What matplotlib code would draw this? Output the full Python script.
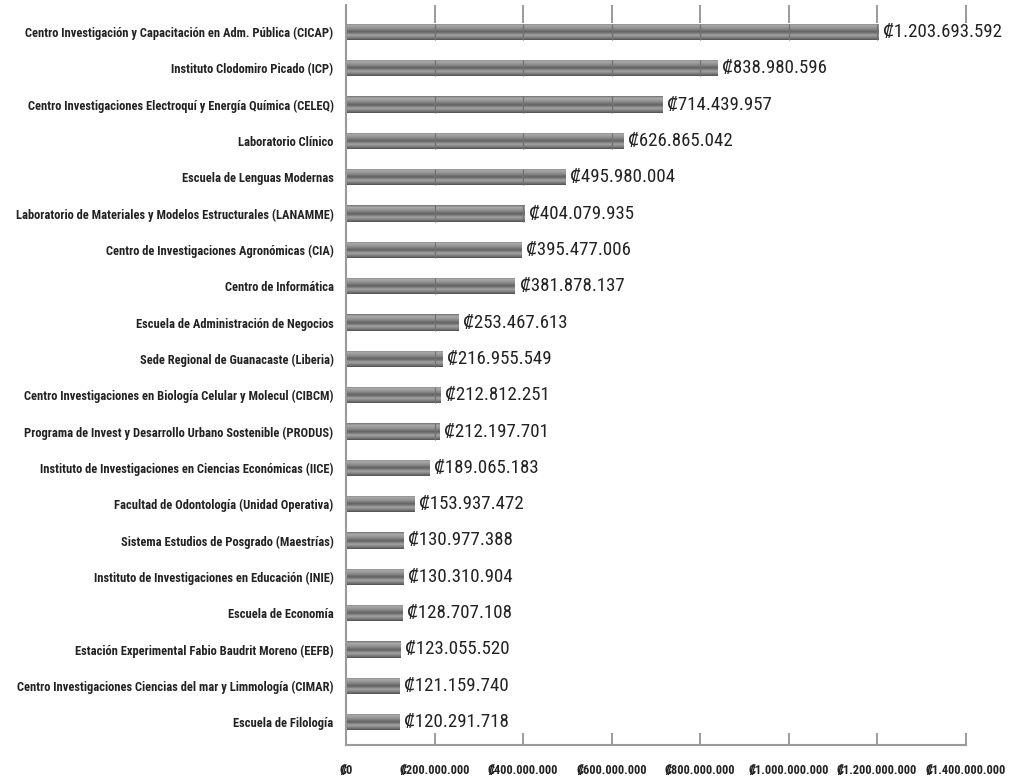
import numpy as np
import matplotlib
matplotlib.use("Agg")
import matplotlib.pyplot as plt
from matplotlib import font_manager as fm
from matplotlib.colors import LinearSegmentedColormap

categories = [
    "Centro Investigación y Capacitación en Adm. Pública (CICAP)",
    "Instituto Clodomiro Picado (ICP)",
    "Centro Investigaciones Electroquí y Energía Química (CELEQ)",
    "Laboratorio Clínico",
    "Escuela de Lenguas Modernas",
    "Laboratorio de Materiales y Modelos Estructurales (LANAMME)",
    "Centro de Investigaciones Agronómicas (CIA)",
    "Centro de Informática",
    "Escuela de Administración de Negocios",
    "Sede Regional de Guanacaste (Liberia)",
    "Centro Investigaciones en Biología Celular y Molecul (CIBCM)",
    "Programa de Invest y Desarrollo Urbano Sostenible (PRODUS)",
    "Instituto de Investigaciones en Ciencias Económicas (IICE)",
    "Facultad de Odontología (Unidad Operativa)",
    "Sistema Estudios de Posgrado (Maestrías)",
    "Instituto de Investigaciones en Educación (INIE)",
    "Escuela de Economía",
    "Estación Experimental Fabio Baudrit Moreno (EEFB)",
    "Centro Investigaciones Ciencias del mar y Limmología (CIMAR)",
    "Escuela de Filología",
]
values = [
    1203693592, 838980596, 714439957, 626865042, 495980004,
    404079935, 395477006, 381878137, 253467613, 216955549,
    212812251, 212197701, 189065183, 153937472, 130977388,
    130310904, 128707108, 123055520, 121159740, 120291718,
]
x_ticks = [0, 200000000, 400000000, 600000000, 800000000,
           1000000000, 1200000000, 1400000000]


def fmt(v):
    return "₡" + f"{v:,}".replace(",", ".")


# ---- choose a narrow font if one is installed ----
def pick_font():
    prefs = ["liberationsansnarrow", "robotocondensed", "opensanscondensed",
             "opensans_condensed", "notosanscondensed", "notosans-condensed",
             "dejavusanscondensed", "latocondensed"]
    entries = fm.fontManager.ttflist
    for p in prefs:
        for e in entries:
            key = e.fname.lower().replace(" ", "").split("/")[-1]
            if key.startswith(p) or p in key:
                return e.name, e.stretch
    for e in entries:
        k = e.fname.lower()
        if "narrow" in k or "condensed" in k:
            return e.name, e.stretch
    return "DejaVu Sans", "normal"


fam_name, fam_stretch = pick_font()
FONT = [fam_name, "Noto Sans", "DejaVu Sans"]
plt.rcParams["font.family"] = FONT

fig = plt.figure(figsize=(10.09, 7.79), dpi=100)
ax = fig.add_axes([0.343, 0.0436, 0.614, 0.95])
renderer = fig.canvas.get_renderer()


def fit_size(text, target_px, weight, max_size):
    t = fig.text(0, 0, text, fontsize=10, fontweight=weight,
                 fontstretch=fam_stretch, family=FONT)
    w = t.get_window_extent(renderer).width
    t.remove()
    return min(max_size, 10 * target_px / w)


cat_size = fit_size(categories[0], 308, "bold", 10.5)
val_size = fit_size(fmt(values[1]), 104, "normal", 16)
tick_size = fit_size(fmt(x_ticks[1]), 70, "bold", 9.5)

n = len(categories)
ypos = np.arange(n)
h = 0.45

cmap = LinearSegmentedColormap.from_list(
    "bar",
    [(0.0, "#707070"), (0.12, "#ababab"), (0.32, "#8f8f8f"),
     (0.52, "#606060"), (0.72, "#a4a4a4"), (0.88, "#7a7a7a"), (1.0, "#505050")],
)
grad = np.linspace(0, 1, 64).reshape(-1, 1)

bars = ax.barh(ypos, values, height=h, color="none", edgecolor="none", zorder=2)
for b in bars:
    x0, y0 = b.get_x(), b.get_y()
    w, hh = b.get_width(), b.get_height()
    im = ax.imshow(grad, cmap=cmap, aspect="auto",
                   extent=[x0, x0 + w, y0 + hh, y0], zorder=2,
                   interpolation="bilinear")
    im.set_clip_path(b)

# grid marks visible through bars
for yi, v in zip(ypos, values):
    xs = [t for t in x_ticks[1:] if t < v]
    if xs:
        ax.vlines(xs, yi - h / 2, yi + h / 2, colors="#727272",
                  linewidth=0.9, zorder=3)

for yi, v in zip(ypos, values):
    ax.text(v + 10000000, yi, fmt(v), va="center", ha="left",
            fontsize=val_size, color="#222222", family=FONT,
            fontstretch=fam_stretch)

ax.set_xlim(0, 1400000000)
ax.set_ylim(n - 1 + 0.63, -0.74)

ax.set_yticks(ypos)
ax.set_yticklabels(categories, fontsize=cat_size, fontweight="bold",
                   color="#222222", fontstretch=fam_stretch)
ax.tick_params(axis="y", length=0, pad=9)

ax.set_xticks(x_ticks)
ax.set_xticklabels([fmt(t) for t in x_ticks], fontsize=tick_size,
                   fontweight="bold", color="#222222", fontstretch=fam_stretch)
ax.tick_params(axis="x", direction="in", length=9, width=1.2,
               color="#8a8a8a", pad=14, top=True)
for tl in ax.xaxis.get_major_ticks():
    tl.tick2line.set_markersize(13)

for s in ["right", "top"]:
    ax.spines[s].set_visible(False)
for s in ["left", "bottom"]:
    ax.spines[s].set_color("#9a9a9a")
    ax.spines[s].set_linewidth(1.5)

fig.savefig("out.png", dpi=100, facecolor="white")
